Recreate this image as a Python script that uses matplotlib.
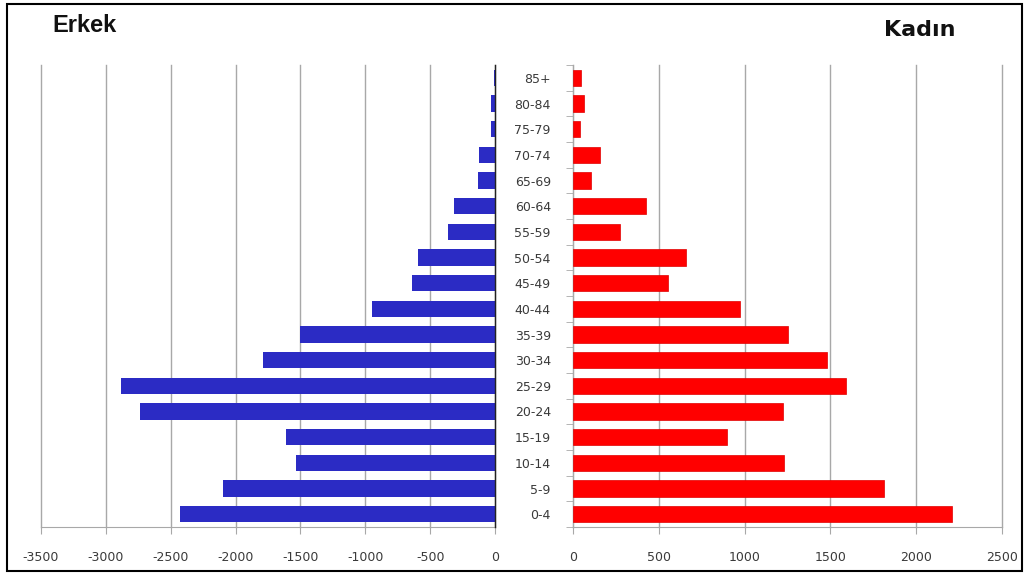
import matplotlib
matplotlib.use("Agg")
import matplotlib.pyplot as plt
from matplotlib.patches import Rectangle

age_groups = ["0-4", "5-9", "10-14", "15-19", "20-24", "25-29", "30-34", "35-39",
              "40-44", "45-49", "50-54", "55-59", "60-64", "65-69", "70-74",
              "75-79", "80-84", "85+"]
male = [2425, 2100, 1535, 1615, 2740, 2885, 1785, 1503, 946, 637, 596, 365,
        314, 133, 123, 33, 33, 5]
female = [2210, 1812, 1232, 898, 1225, 1590, 1478, 1254, 973, 552, 659, 276,
          424, 103, 155, 39, 62, 47]
left_ticks = [-3500, -3000, -2500, -2000, -1500, -1000, -500, 0]
right_ticks = [0, 500, 1000, 1500, 2000, 2500]

W, H = 1030, 574
fig = plt.figure(figsize=(W / 100, H / 100), dpi=100)
fig.patch.set_facecolor("white")

# outer border
fig.add_artist(Rectangle((7 / W, 1 - 571 / H), (1022 - 7) / W, (571 - 4) / H,
                         transform=fig.transFigure, fill=False,
                         edgecolor="black", linewidth=1.5))

top, bottom = 65, 527
axL = fig.add_axes([41 / W, 1 - bottom / H, (495 - 41) / W, (bottom - top) / H])
axR = fig.add_axes([573 / W, 1 - bottom / H, (1002 - 573) / W, (bottom - top) / H])

y = list(range(len(age_groups)))
blue = "#2b2bc4"
red = "#ff0000"
txt = "#3a3a3a"
grid_c = "#a8a8a8"

axL.barh(y, [-v for v in male], height=0.63, color=blue, zorder=3)
axR.barh(y, female, height=0.63, color=red, edgecolor="#e00000", linewidth=0.5, zorder=3)

for ax in (axL, axR):
    ax.set_ylim(-0.5, len(age_groups) - 0.5)
    ax.spines["top"].set_visible(False)
    ax.spines["bottom"].set_color(grid_c)
    ax.xaxis.grid(True, color=grid_c, linewidth=1.0, zorder=0)
    ax.tick_params(axis="x", colors=grid_c, labelcolor=txt, labelsize=9,
                   length=5, pad=12, direction="out")

axL.set_xlim(-3500, 0)
axL.set_xticks(left_ticks)
axL.set_xticklabels([str(t) for t in left_ticks])
axL.spines["left"].set_visible(False)
axL.spines["right"].set_color("#222222")
axL.spines["right"].set_linewidth(1.0)
axL.spines["right"].set_zorder(4)
axL.set_yticks([])

axR.set_xlim(0, 2500)
axR.set_xticks(right_ticks)
axR.set_xticklabels([str(t) for t in right_ticks])
axR.spines["right"].set_visible(False)
axR.spines["left"].set_color(grid_c)
axR.set_yticks(y)
axR.set_yticklabels(age_groups)
axR.set_yticks([i - 0.5 for i in range(len(age_groups) + 1)], minor=True)
axR.tick_params(axis="y", which="major", length=0, labelsize=9, labelcolor=txt, pad=16)
axR.tick_params(axis="y", which="minor", length=5, color=grid_c)

for ax in (axL, axR):
    for gl in ax.get_xgridlines():
        gl.set_clip_on(False)

fig.text(52 / W, 1 - 26 / H, "Erkek", fontsize=17, fontweight="bold",
         family=["Liberation Sans", "DejaVu Sans"],
         color="#111111", va="center", ha="left")
fig.text(955 / W, 1 - 30 / H, "Kadın", fontsize=16, fontweight="bold",
         family=["DejaVu Sans"],
         color="#111111", va="center", ha="right")

fig.savefig("out.png", dpi=100, facecolor="white")
